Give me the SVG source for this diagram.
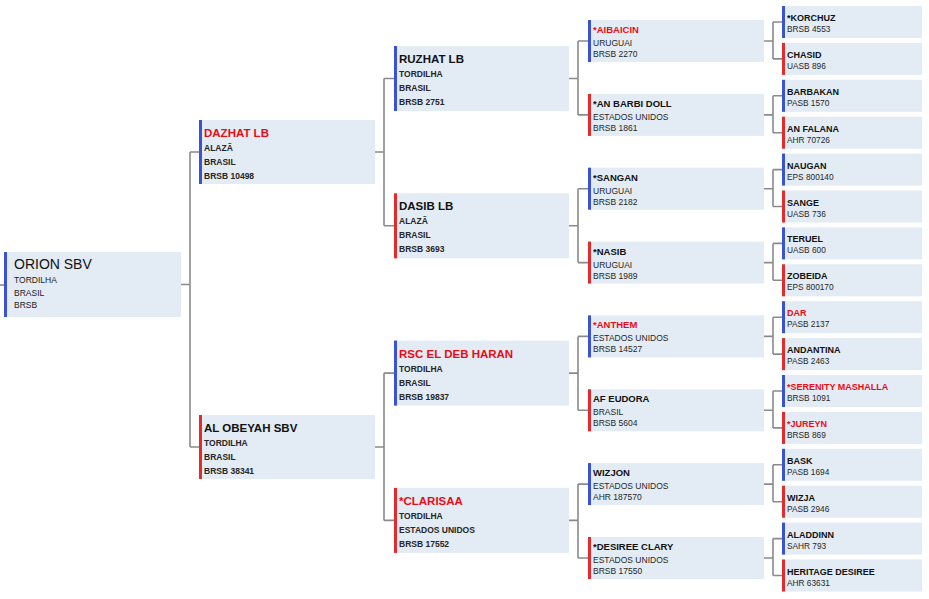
<svg xmlns="http://www.w3.org/2000/svg" width="929" height="599" viewBox="0 0 929 599">
<style>
.box{fill:#e3ebf4}
.sire{fill:#3a52d6}
.dam{fill:#e22b2b}
.n{font-family:"Liberation Sans",Arial,sans-serif;font-weight:bold;fill:#111}
.r{fill:#ec0a14}
.s{font-family:"Liberation Sans",Arial,sans-serif;fill:#262626}
.n1{font-family:"Liberation Sans",Arial,sans-serif;font-size:14px;fill:#111}
.s1{font-size:8.5px;fill:#1a1a1a}
.n2{font-size:11.5px}
.s2{font-size:8.5px;font-weight:bold}
.n4{font-size:9.5px}
.s4{font-size:8.5px}
.n5{font-size:9px}
.s5{font-size:8.3px}
.c{fill:none;stroke:#8a8a8a;stroke-width:1.6}
</style>
<rect width="929" height="599" fill="#ffffff"/>
<g id="connectors" class="c">
<path d="M0 285H4"/>
<path d="M181 284.5H190M190 152V447M190 152H199M190 447H199"/>
<path d="M375 152H384M384 78.5V225.8M384 78.5H394M384 225.8H394"/>
<path d="M375 447H384M384 373.1V520.4M384 373.1H394M384 520.4H394"/>
<path d="M569 78.5H578M578 41V114.9M578 41H588M578 114.9H588"/>
<path d="M569 225.8H578M578 188.7V262.6M578 188.7H588M578 262.6H588"/>
<path d="M569 373.1H578M578 336.4V410.3M578 336.4H588M578 410.3H588"/>
<path d="M569 520.4H578M578 484.1V558M578 484.1H588M578 558H588"/>
<path d="M764 41H773M773 22V58.9M773 22H782M773 58.9H782"/>
<path d="M764 114.9H773M773 95.8V132.7M773 95.8H782M773 132.7H782"/>
<path d="M764 188.7H773M773 169.6V206.5M773 169.6H782M773 206.5H782"/>
<path d="M764 262.6H773M773 243.4V280.3M773 243.4H782M773 280.3H782"/>
<path d="M764 336.4H773M773 317.2V354.1M773 317.2H782M773 354.1H782"/>
<path d="M764 410.3H773M773 391V427.9M773 391H782M773 427.9H782"/>
<path d="M764 484.1H773M773 464.8V501.7M773 464.8H782M773 501.7H782"/>
<path d="M764 558H773M773 538.6V575.5M773 538.6H782M773 575.5H782"/>
</g>

<g id="orion">
<rect class="box" x="4" y="252" width="177" height="65"/>
<rect class="sire" x="4" y="252" width="3" height="65"/>
<text class="n1" x="14" y="269">ORION SBV</text>
<text class="s s1" x="14" y="283">TORDILHA</text>
<text class="s s1" x="14" y="296">BRASIL</text>
<text class="s s1" x="14" y="308">BRSB</text>
</g>

<g id="dazhat">
<rect class="box" x="199" y="120" width="176" height="64"/>
<rect class="sire" x="199" y="120" width="3" height="64"/>
<text class="n n2 r" x="204" y="137">DAZHAT LB</text>
<text class="s s2" x="204" y="151">ALAZÃ</text>
<text class="s s2" x="204" y="165">BRASIL</text>
<text class="s s2" x="204" y="179">BRSB 10498</text>
</g>
<g id="alobeyah">
<rect class="box" x="199" y="415" width="176" height="64"/>
<rect class="dam" x="199" y="415" width="3" height="64"/>
<text class="n n2" x="204" y="432">AL OBEYAH SBV</text>
<text class="s s2" x="204" y="446">TORDILHA</text>
<text class="s s2" x="204" y="460">BRASIL</text>
<text class="s s2" x="204" y="474">BRSB 38341</text>
</g>

<g id="ruzhat">
<rect class="box" x="394" y="46" width="175" height="65"/>
<rect class="sire" x="394" y="46" width="3" height="65"/>
<text class="n n2" x="399" y="63">RUZHAT LB</text>
<text class="s s2" x="399" y="77">TORDILHA</text>
<text class="s s2" x="399" y="91">BRASIL</text>
<text class="s s2" x="399" y="105">BRSB 2751</text>
</g>
<g id="dasib">
<rect class="box" x="394" y="193.3" width="175" height="65"/>
<rect class="dam" x="394" y="193.3" width="3" height="65"/>
<text class="n n2" x="399" y="210.3">DASIB LB</text>
<text class="s s2" x="399" y="224.3">ALAZÃ</text>
<text class="s s2" x="399" y="238.3">BRASIL</text>
<text class="s s2" x="399" y="252.3">BRSB 3693</text>
</g>
<g id="rsceldebharan">
<rect class="box" x="394" y="340.6" width="175" height="65"/>
<rect class="sire" x="394" y="340.6" width="3" height="65"/>
<text class="n n2 r" x="399" y="357.6">RSC EL DEB HARAN</text>
<text class="s s2" x="399" y="371.6">TORDILHA</text>
<text class="s s2" x="399" y="385.6">BRASIL</text>
<text class="s s2" x="399" y="399.6">BRSB 19837</text>
</g>
<g id="clarisaa">
<rect class="box" x="394" y="487.9" width="175" height="65"/>
<rect class="dam" x="394" y="487.9" width="3" height="65"/>
<text class="n n2 r" x="399" y="504.9">*CLARISAA</text>
<text class="s s2" x="399" y="518.9">TORDILHA</text>
<text class="s s2" x="399" y="532.9">ESTADOS UNIDOS</text>
<text class="s s2" x="399" y="546.9">BRSB 17552</text>
</g>

<g id="aibaicin">
<rect class="box" x="588" y="20" width="176" height="42"/>
<rect class="sire" x="588" y="20" width="3" height="42"/>
<text class="n n4 r" x="593" y="33">*AIBAICIN</text>
<text class="s s4" x="593" y="46">URUGUAI</text>
<text class="s s4" x="593" y="57">BRSB 2270</text>
</g>
<g id="anbarbidoll">
<rect class="box" x="588" y="93.9" width="176" height="42"/>
<rect class="dam" x="588" y="93.9" width="3" height="42"/>
<text class="n n4" x="593" y="106.9">*AN BARBI DOLL</text>
<text class="s s4" x="593" y="119.9">ESTADOS UNIDOS</text>
<text class="s s4" x="593" y="130.9">BRSB 1861</text>
</g>
<g id="sangan">
<rect class="box" x="588" y="167.7" width="176" height="42"/>
<rect class="sire" x="588" y="167.7" width="3" height="42"/>
<text class="n n4" x="593" y="180.7">*SANGAN</text>
<text class="s s4" x="593" y="193.7">URUGUAI</text>
<text class="s s4" x="593" y="204.7">BRSB 2182</text>
</g>
<g id="nasib">
<rect class="box" x="588" y="241.6" width="176" height="42"/>
<rect class="dam" x="588" y="241.6" width="3" height="42"/>
<text class="n n4" x="593" y="254.6">*NASIB</text>
<text class="s s4" x="593" y="267.6">URUGUAI</text>
<text class="s s4" x="593" y="278.6">BRSB 1989</text>
</g>
<g id="anthem">
<rect class="box" x="588" y="315.4" width="176" height="42"/>
<rect class="sire" x="588" y="315.4" width="3" height="42"/>
<text class="n n4 r" x="593" y="328.4">*ANTHEM</text>
<text class="s s4" x="593" y="341.4">ESTADOS UNIDOS</text>
<text class="s s4" x="593" y="352.4">BRSB 14527</text>
</g>
<g id="afeudora">
<rect class="box" x="588" y="389.3" width="176" height="42"/>
<rect class="dam" x="588" y="389.3" width="3" height="42"/>
<text class="n n4" x="593" y="402.3">AF EUDORA</text>
<text class="s s4" x="593" y="415.3">BRASIL</text>
<text class="s s4" x="593" y="426.3">BRSB 5604</text>
</g>
<g id="wizjon">
<rect class="box" x="588" y="463.1" width="176" height="42"/>
<rect class="sire" x="588" y="463.1" width="3" height="42"/>
<text class="n n4" x="593" y="476.1">WIZJON</text>
<text class="s s4" x="593" y="489.1">ESTADOS UNIDOS</text>
<text class="s s4" x="593" y="500.1">AHR 187570</text>
</g>
<g id="desireeclary">
<rect class="box" x="588" y="537" width="176" height="42"/>
<rect class="dam" x="588" y="537" width="3" height="42"/>
<text class="n n4" x="593" y="550">*DESIREE CLARY</text>
<text class="s s4" x="593" y="563">ESTADOS UNIDOS</text>
<text class="s s4" x="593" y="574">BRSB 17550</text>
</g>

<g id="korchuz">
<rect class="box" x="782" y="6" width="140" height="32"/>
<rect class="sire" x="782" y="6" width="3" height="32"/>
<text class="n n5" x="787" y="21">*KORCHUZ</text>
<text class="s s5" x="787" y="32">BRSB 4553</text>
</g>
<g id="chasid">
<rect class="box" x="782" y="42.9" width="140" height="32"/>
<rect class="dam" x="782" y="42.9" width="3" height="32"/>
<text class="n n5" x="787" y="57.9">CHASID</text>
<text class="s s5" x="787" y="68.9">UASB 896</text>
</g>
<g id="barbakan">
<rect class="box" x="782" y="79.8" width="140" height="32"/>
<rect class="sire" x="782" y="79.8" width="3" height="32"/>
<text class="n n5" x="787" y="94.8">BARBAKAN</text>
<text class="s s5" x="787" y="105.8">PASB 1570</text>
</g>
<g id="anfalana">
<rect class="box" x="782" y="116.7" width="140" height="32"/>
<rect class="dam" x="782" y="116.7" width="3" height="32"/>
<text class="n n5" x="787" y="131.7">AN FALANA</text>
<text class="s s5" x="787" y="142.7">AHR 70726</text>
</g>
<g id="naugan">
<rect class="box" x="782" y="153.6" width="140" height="32"/>
<rect class="sire" x="782" y="153.6" width="3" height="32"/>
<text class="n n5" x="787" y="168.6">NAUGAN</text>
<text class="s s5" x="787" y="179.6">EPS 800140</text>
</g>
<g id="sange">
<rect class="box" x="782" y="190.5" width="140" height="32"/>
<rect class="dam" x="782" y="190.5" width="3" height="32"/>
<text class="n n5" x="787" y="205.5">SANGE</text>
<text class="s s5" x="787" y="216.5">UASB 736</text>
</g>
<g id="teruel">
<rect class="box" x="782" y="227.4" width="140" height="32"/>
<rect class="sire" x="782" y="227.4" width="3" height="32"/>
<text class="n n5" x="787" y="242.4">TERUEL</text>
<text class="s s5" x="787" y="253.4">UASB 600</text>
</g>
<g id="zobeida">
<rect class="box" x="782" y="264.3" width="140" height="32"/>
<rect class="dam" x="782" y="264.3" width="3" height="32"/>
<text class="n n5" x="787" y="279.3">ZOBEIDA</text>
<text class="s s5" x="787" y="290.3">EPS 800170</text>
</g>
<g id="dar">
<rect class="box" x="782" y="301.2" width="140" height="32"/>
<rect class="sire" x="782" y="301.2" width="3" height="32"/>
<text class="n n5 r" x="787" y="316.2">DAR</text>
<text class="s s5" x="787" y="327.2">PASB 2137</text>
</g>
<g id="andantina">
<rect class="box" x="782" y="338.1" width="140" height="32"/>
<rect class="dam" x="782" y="338.1" width="3" height="32"/>
<text class="n n5" x="787" y="353.1">ANDANTINA</text>
<text class="s s5" x="787" y="364.1">PASB 2463</text>
</g>
<g id="serenitymashalla">
<rect class="box" x="782" y="375" width="140" height="32"/>
<rect class="sire" x="782" y="375" width="3" height="32"/>
<text class="n n5 r" x="787" y="390">*SERENITY MASHALLA</text>
<text class="s s5" x="787" y="401">BRSB 1091</text>
</g>
<g id="jureyn">
<rect class="box" x="782" y="411.9" width="140" height="32"/>
<rect class="dam" x="782" y="411.9" width="3" height="32"/>
<text class="n n5 r" x="787" y="426.9">*JUREYN</text>
<text class="s s5" x="787" y="437.9">BRSB 869</text>
</g>
<g id="bask">
<rect class="box" x="782" y="448.8" width="140" height="32"/>
<rect class="sire" x="782" y="448.8" width="3" height="32"/>
<text class="n n5" x="787" y="463.8">BASK</text>
<text class="s s5" x="787" y="474.8">PASB 1694</text>
</g>
<g id="wizja">
<rect class="box" x="782" y="485.7" width="140" height="32"/>
<rect class="dam" x="782" y="485.7" width="3" height="32"/>
<text class="n n5" x="787" y="500.7">WIZJA</text>
<text class="s s5" x="787" y="511.7">PASB 2946</text>
</g>
<g id="aladdinn">
<rect class="box" x="782" y="522.6" width="140" height="32"/>
<rect class="sire" x="782" y="522.6" width="3" height="32"/>
<text class="n n5" x="787" y="537.6">ALADDINN</text>
<text class="s s5" x="787" y="548.6">SAHR 793</text>
</g>
<g id="heritagedesiree">
<rect class="box" x="782" y="559.5" width="140" height="32"/>
<rect class="dam" x="782" y="559.5" width="3" height="32"/>
<text class="n n5" x="787" y="574.5">HERITAGE DESIREE</text>
<text class="s s5" x="787" y="585.5">AHR 63631</text>
</g>
</svg>
